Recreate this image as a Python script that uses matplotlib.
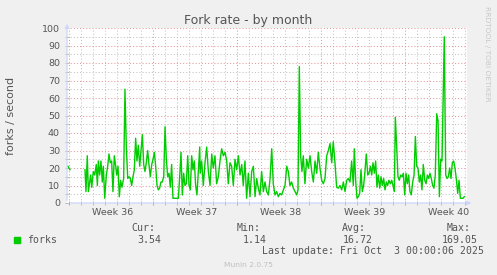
import numpy as np
import matplotlib.pyplot as plt
from matplotlib.patches import Rectangle

nan = float('nan')

# time in days since the left edge of the graph, forks per second
days = [0.08, 0.25, 0.5,
        1.50, 1.58, 1.69, 1.78, 1.97, 2.06, 2.19, 2.31, 2.44, 2.53, 2.61, 2.72, 2.83, 2.94,
        3.03, 3.14, 3.28, 3.39, 3.50, 3.61, 3.72, 3.83, 3.94, 4.06, 4.14, 4.25, 4.36, 4.47,
        4.58, 4.72, 4.83, 4.94, 5.06, 5.17, 5.28, 5.39, 5.50, 5.61, 5.72, 5.83, 5.94, 6.06,
        6.17, 6.28, 6.39, 6.50, 6.61, 6.72, 6.83, 6.94, 7.06, 7.17, 7.28, 7.39, 7.50, 7.61,
        7.72, 7.83, 7.94, 8.06, 8.17, 8.28, 8.39, 8.50, 8.61, 8.72, 8.83, 9.28, 9.39, 9.50,
        9.61, 9.72, 9.83, 9.94, 10.06, 10.17, 10.28, 10.39, 10.50, 10.61, 10.72, 10.83, 10.94,
        11.06, 11.10, 11.22, 11.36, 11.50, 11.64, 11.78, 11.92, 12.06, 12.19, 12.33, 12.47,
        12.61, 12.75, 12.89, 13.03, 13.17, 13.31, 13.44, 13.58, 13.72, 13.86, 14.00, 14.14,
        14.28, 14.42, 14.56, 14.69, 14.83, 14.97, 15.11, 15.25, 15.39, 15.53, 15.67, 15.81,
        15.94, 16.08, 16.22, 16.36, 16.50, 16.64, 16.78, 16.92, 17.06, 17.19, 17.33, 17.47,
        17.61, 17.75, 17.89, 18.03, 18.17, 18.31, 18.44, 18.58, 18.72, 18.86, 19.00, 19.14,
        19.25, 19.36, 19.47, 19.58, 19.69, 19.83, 19.97, 20.11, 20.25, 20.39, 20.53, 20.67,
        20.81, 20.94, 21.08, 21.22, 21.36, 21.50, 21.64, 21.78, 21.92, 22.06, 22.19, 22.33,
        22.47, 22.61, 22.75, 22.89, 23.03, 23.17, 23.31, 23.44, 23.58, 23.72, 23.86, 23.94,
        24.06, 24.17, 24.28, 24.39, 24.50, 24.61, 24.72, 24.83, 24.94, 25.06, 25.17, 25.28,
        25.39, 25.50, 25.61, 25.72, 25.83, 25.94, 26.06, 26.17, 26.28, 26.39, 26.50, 26.61,
        26.72, 26.83, 26.94, 27.06, 27.17, 27.28, 27.36, 27.47, 27.58, 27.69, 27.81, 27.92,
        28.03, 28.14, 28.25, 28.36, 28.47, 28.58, 28.69, 28.81, 28.92, 29.03, 29.14, 29.25,
        29.36, 29.47, 29.58, 29.69, 29.81, 29.92, 30.03, 30.14, 30.25, 30.36, 30.47, 30.58,
        30.69, 30.81, 30.92, 31.03, 31.14, 31.25, 31.44, 31.56, 31.67, 31.78, 31.89, 32.00,
        32.11, 32.22, 32.33, 32.44, 32.56, 32.67, 32.78, 33.00, 33.11]
forks = [21, 19, nan,
         19, 6.5, 27, 6.5, 16, 9, 18, 16, 22, 10, 24, 16, 24, 12,
         21, 2.7, 16, 21, 28, 23, 24, 6.5, 27, 21, 16, 21, 3.6, 13,
         9, 14, 65, 33, 14, 15, 14, 10, 15, 19, 37, 24, 33, 21,
         30, 39, 22, 18, 23, 30, 22, 15, 22, 25, 29, 21, 10, 7.5,
         8.5, 12, 12, 15, 43.6, 25, 15, 17, 9, 22, 2.7, 2.7, 15, 29,
         4.6, 17, 10, 11, 27, 10, 7.5, 27, 19, 24, 10, 4.6, 18,
         32, 17, 24, 10, 23, 32, 18, 10, 28, 20, 27, 11,
         15, 24, 31, 27, 29, 24, 11, 23, 21, 10, 25, 19,
         27, 16, 22, 10, 24, 2.7, 17, 3.6, 18, 21, 3.6, 14,
         8.5, 4.6, 18, 6.5, 12, 6.5, 4.6, 14, 31, 11, 4.6, 6.5,
         3.6, 5.5, 4.6, 7.5, 10, 21, 18, 10, 12, 8.5, 6.5, 4.6,
         7.5, 78, 27, 18, 27, 11, 25, 20, 27, 18, 12, 24,
         17, 29, 20, 13, 11, 14, 27, 30, 34, 23, 35, 23,
         9, 8.5, 10, 7.5, 12, 6.5, 13, 14, 12, 24, 10, 31,
         12, 2.7, 3.6, 5.5, 19, 6.5, 10, 18, 28, 16, 17, 21,
         16, 23, 17, 24, 9, 16, 8.5, 15, 10, 14, 7.5, 12,
         10, 13, 11, 13, 10, 6.5, 49, 33, 15, 13, 16, 15,
         17, 4.6, 17, 11, 16, 6.5, 4.6, 12, 16, 38, 21, 20,
         12, 16, 7.5, 22, 13, 11, 16, 14, 17, 14, 10, 8.5,
         16, 51, 47, 3.6, 25, 24, 95, 16, 14, 15, 20, 14,
         23, 24, 20, 14, 5.5, 13, 2.7, 2.7, 3.6]

week_starts = [0.167, 7.167, 14.167, 21.167, 28.167]
week_labels = ['Week 36', 'Week 37', 'Week 38', 'Week 39', 'Week 40']
stat_names = ['Cur:', 'Min:', 'Avg:', 'Max:']
stat_values = ['3.54', '1.14', '16.72', '169.05']

W, H = 497, 275
font_col = '#555555'
line_col = '#00CC00'
axis_col = '#CFD6F8'

fig = plt.figure(figsize=(W / 100, H / 100), dpi=100, facecolor='#F0F0F0')
ax = fig.add_axes([67 / W, 72 / H, 400 / W, 175 / H])
ax.set_facecolor('white')

ax.plot(days, forks, color=line_col, lw=1.0)

ax.set_xlim(0, 400 / 12)
ax.set_ylim(0, 100)

# grid: days / weeks on x, 5 / 10 on y
day_ticks = np.arange(week_starts[0], 400 / 12, 1.0)
ax.set_xticks(week_starts)
ax.set_xticks(day_ticks, minor=True)
ax.set_yticks(np.arange(0, 101, 10))
ax.set_yticks(np.arange(5, 100, 10), minor=True)
ax.set_xticklabels([])
ax.set_yticklabels([str(v) for v in range(0, 101, 10)])

ax.grid(which='minor', color='#C4C4C4', linestyle=(0, (1, 2)), lw=0.75)
ax.grid(which='major', color='#E89898', linestyle=(0, (1, 2)), lw=0.75)
ax.set_axisbelow(True)

ax.tick_params(axis='both', which='both', direction='inout', length=2.5, width=0.6,
               labelsize=6.8, labelcolor=font_col, color='#B0B0B0', pad=3.8)
ax.tick_params(axis='x', which='major', color='#E08080')

for s in ax.spines.values():
    s.set_visible(False)

# axes with arrows
ax.annotate('', xy=(1.018, 0), xytext=(0, 0), xycoords='axes fraction',
            arrowprops=dict(arrowstyle='-|>', color=axis_col, lw=0.9, mutation_scale=6),
            annotation_clip=False)
ax.annotate('', xy=(0, 1.04), xytext=(0, 0), xycoords='axes fraction',
            arrowprops=dict(arrowstyle='-|>', color=axis_col, lw=0.9, mutation_scale=6),
            annotation_clip=False)

# week labels centred inside each week
for ws, lab in zip(week_starts, week_labels):
    ax.text(ws + 3.6, -0.052, lab, transform=ax.get_xaxis_transform(),
            ha='center', va='center', fontsize=6.8, color=font_col)

fig.text(0.5, 1 - 24 / H, 'Fork rate - by month', ha='center', va='baseline',
         fontsize=9, color=font_col)
fig.text(11 / W, 1 - 115.5 / H, 'forks / second', rotation=90, ha='center',
         va='center', fontsize=8, color=font_col)
fig.text(487.5 / W, 1 - 53.5 / H, 'RRDTOOL / TOBI OETIKER', rotation=270,
         ha='center', va='center', fontsize=5.4, color='#C8C8C8')

# legend
mono = dict(family='DejaVu Sans Mono', fontsize=7.1, color=font_col)
fig.patches.append(Rectangle((14 / W, 1 - 242.5 / H), 6 / W, 6 / H,
                             transform=fig.transFigure, color=line_col))
fig.text(26.7 / W, 1 - 243 / H, 'forks', va='baseline', **mono)
name_x = [131.7, 236.7, 342.3, 446.7]
val_x = [137.7, 242.7, 342.3, 441.7]
for nx, vx, nm, vl in zip(name_x, val_x, stat_names, stat_values):
    fig.text(nx / W, 1 - 231 / H, nm, va='baseline', **mono)
    fig.text(vx / W, 1 - 243 / H, vl, va='baseline', **mono)
fig.text(261.7 / W, 1 - 254.5 / H, 'Last update: Fri Oct  3 00:00:06 2025',
         va='baseline', **mono)
fig.text(0.5, 1 - 267 / H, 'Munin 2.0.75', ha='center', va='baseline',
         fontsize=5.4, color='#C0C0C0')

fig.savefig('out.png', dpi=100, facecolor=fig.get_facecolor())
